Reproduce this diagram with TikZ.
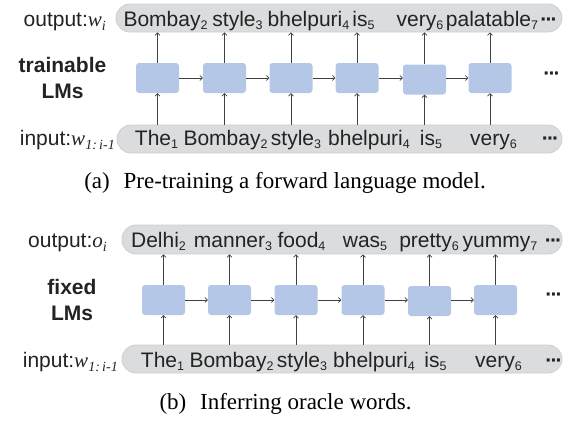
\documentclass[tikz,border=0pt]{standalone}
\usepackage{fontspec}
\setmainfont{Liberation Serif}
\setsansfont{Liberation Sans}
\newfontfamily\serifit{Liberation Serif Italic}
\usetikzlibrary{arrows.meta}

\definecolor{barfill}{RGB}{219,220,222}
\definecolor{baredge}{RGB}{205,206,209}
\definecolor{boxfill}{RGB}{180,199,231}
\definecolor{txt}{RGB}{35,35,35}

% small lowered index after a word
\newcommand{\ssub}[1]{\raisebox{-3pt}{\fontsize{12.5}{13}\selectfont #1}}
\newcommand{\lsub}[1]{\raisebox{-4pt}{\fontsize{14}{14}\selectfont #1}}
\newcommand{\mdots}{\textbf{·\kern-1.8pt·\kern-1.8pt·}}

\tikzset{
	bar/.style={fill=barfill, draw=baredge, line width=0.8pt, rounded corners=14pt, inner sep=0pt},
	lmbox/.style={fill=boxfill, rounded corners=3pt, minimum width=43pt, minimum height=30pt, inner sep=0pt},
	word/.style={anchor=base, inner sep=0pt, text=txt, font=\sffamily\fontsize{21}{25}\selectfont},
	side/.style={anchor=base east, inner sep=0pt, text=txt, font=\sffamily\fontsize{21}{25}\selectfont},
	lmname/.style={align=center, inner sep=0pt, text=txt, font=\sffamily\bfseries\fontsize{21}{26}\selectfont},
	capt/.style={anchor=base, inner sep=0pt, font=\fontsize{23}{27}\selectfont},
	conn/.style={draw=black!75, line width=0.7pt, -{Straight Barb[length=2.5pt,width=5pt]}}
}

\begin{document}
\begin{tikzpicture}[x=1pt, y=-1pt]
	\useasboundingbox (0,0) rectangle (563,423);

	% (a) pre-training
	\node[bar, minimum width=446pt, minimum height=28pt] (outA) at (339,18) {};
	\node[bar, minimum width=445pt, minimum height=28pt] (inA) at (339.5,139) {};
	\node[side] (labOutA) at (106,27) {output:{\serifit w\lsub{i}}};
	\node[side] (labInA) at (115,145) {input:{\serifit w\lsub{1:\,i-1}}};
	\node[lmname] (nameA) at (62.5,78) {trainable\\LMs};

	\node[word] (oA1) at (165.5,27) {Bombay\ssub{2}};
	\node[word] (oA2) at (237.5,27) {style\ssub{3}};
	\node[word] (oA3) at (308.5,27) {bhelpuri\ssub{4}};
	\node[word] (oA4) at (363.5,27) {is\ssub{5}};
	\node[word] (oA5) at (420,27) {very\ssub{6}};
	\node[word] (oA6) at (492,27) {palatable\ssub{7}};
	\node[word] (oA7) at (549,27) {\mdots};

	\node[word] (iA1) at (156.5,145) {The\ssub{1}};
	\node[word] (iA2) at (225.5,145) {Bombay\ssub{2}};
	\node[word] (iA3) at (296,145) {style\ssub{3}};
	\node[word] (iA4) at (369,145) {bhelpuri\ssub{4}};
	\node[word] (iA5) at (431,145) {is\ssub{5}};
	\node[word] (iA6) at (493.5,145) {very\ssub{6}};
	\node[word] (iA7) at (550.5,145) {\mdots};

	\node[lmbox] (lmA1) at (157.5,78) {};
	\node[lmbox] (lmA2) at (224.5,78) {};
	\node[lmbox] (lmA3) at (291,78) {};
	\node[lmbox] (lmA4) at (357,78) {};
	\node[lmbox] (lmA5) at (424.5,79.5) {};
	\node[lmbox] (lmA6) at (490,78) {};
	\node[word, anchor=center] (dotsA) at (552,76) {\mdots};

	\draw[conn] (lmA1) -- (lmA2);
	\draw[conn] (lmA2) -- (lmA3);
	\draw[conn] (lmA3) -- (lmA4);
	\draw[conn] (lmA4.east) -- (lmA4.east -| lmA5.west);
	\draw[conn] (lmA5.east |- lmA6.west) -- (lmA6.west);

	\draw[conn] (lmA1.south |- inA.north) -- (lmA1.south);
	\draw[conn] (lmA2.south |- inA.north) -- (lmA2.south);
	\draw[conn] (lmA3.south |- inA.north) -- (lmA3.south);
	\draw[conn] (lmA4.south |- inA.north) -- (lmA4.south);
	\draw[conn] (lmA5.south |- inA.north) -- (lmA5.south);
	\draw[conn] (lmA6.south |- inA.north) -- (lmA6.south);
	\draw[conn] (lmA1.north) -- (lmA1.north |- outA.south);
	\draw[conn] (lmA2.north) -- (lmA2.north |- outA.south);
	\draw[conn] (lmA3.north) -- (lmA3.north |- outA.south);
	\draw[conn] (lmA4.north) -- (lmA4.north |- outA.south);
	\draw[conn] (lmA5.north) -- (lmA5.north |- outA.south);
	\draw[conn] (lmA6.north) -- (lmA6.north |- outA.south);

	\node[capt] (captA) at (285,188) {(a)\hspace{0.6em}Pre-training a forward language model.};

	% (b) inferring
	\node[bar, minimum width=440pt, minimum height=29pt] (outB) at (342,239.5) {};
	\node[bar, minimum width=440pt, minimum height=28pt] (inB) at (342,359) {};
	\node[side] (labOutB) at (107,247) {output:{\serifit o\lsub{i}}};
	\node[side] (labInB) at (118,367) {input:{\serifit w\lsub{1:\,i-1}}};
	\node[lmname] (nameB) at (72,300) {fixed\\LMs};

	\node[word] (oB1) at (158.5,247) {Delhi\ssub{2}};
	\node[word] (oB2) at (233,247) {manner\ssub{3}};
	\node[word] (oB3) at (301.5,247) {food\ssub{4}};
	\node[word] (oB4) at (365,247) {was\ssub{5}};
	\node[word] (oB5) at (429,247) {pretty\ssub{6}};
	\node[word] (oB6) at (500,247) {yummy\ssub{7}};
	\node[word] (oB7) at (553.5,247) {\mdots};

	\node[word] (iB1) at (162.5,367) {The\ssub{1}};
	\node[word] (iB2) at (231.5,367) {Bombay\ssub{2}};
	\node[word] (iB3) at (302,367) {style\ssub{3}};
	\node[word] (iB4) at (374,367) {bhelpuri\ssub{4}};
	\node[word] (iB5) at (435.5,367) {is\ssub{5}};
	\node[word] (iB6) at (498.5,367) {very\ssub{6}};
	\node[word] (iB7) at (554,367) {\mdots};

	\node[lmbox] (lmB1) at (163.5,300) {};
	\node[lmbox] (lmB2) at (229.5,300) {};
	\node[lmbox] (lmB3) at (296,300) {};
	\node[lmbox] (lmB4) at (363,300) {};
	\node[lmbox] (lmB5) at (429.5,301) {};
	\node[lmbox] (lmB6) at (495.5,300) {};
	\node[word, anchor=center] (dotsB) at (554,297) {\mdots};

	\draw[conn] (lmB1) -- (lmB2);
	\draw[conn] (lmB2) -- (lmB3);
	\draw[conn] (lmB3) -- (lmB4);
	\draw[conn] (lmB4.east) -- (lmB4.east -| lmB5.west);
	\draw[conn] (lmB5.east |- lmB6.west) -- (lmB6.west);

	\draw[conn] (lmB1.south |- inB.north) -- (lmB1.south);
	\draw[conn] (lmB2.south |- inB.north) -- (lmB2.south);
	\draw[conn] (lmB3.south |- inB.north) -- (lmB3.south);
	\draw[conn] (lmB4.south |- inB.north) -- (lmB4.south);
	\draw[conn] (lmB5.south |- inB.north) -- (lmB5.south);
	\draw[conn] (lmB6.south |- inB.north) -- (lmB6.south);
	\draw[conn] (lmB1.north) -- (lmB1.north |- outB.south);
	\draw[conn] (lmB2.north) -- (lmB2.north |- outB.south);
	\draw[conn] (lmB3.north) -- (lmB3.north |- outB.south);
	\draw[conn] (lmB4.north) -- (lmB4.north |- outB.south);
	\draw[conn] (lmB5.north) -- (lmB5.north |- outB.south);
	\draw[conn] (lmB6.north) -- (lmB6.north |- outB.south);

	\node[capt] (captB) at (285.5,409) {(b)\hspace{0.6em}Inferring oracle words.};

\end{tikzpicture}
\end{document}
